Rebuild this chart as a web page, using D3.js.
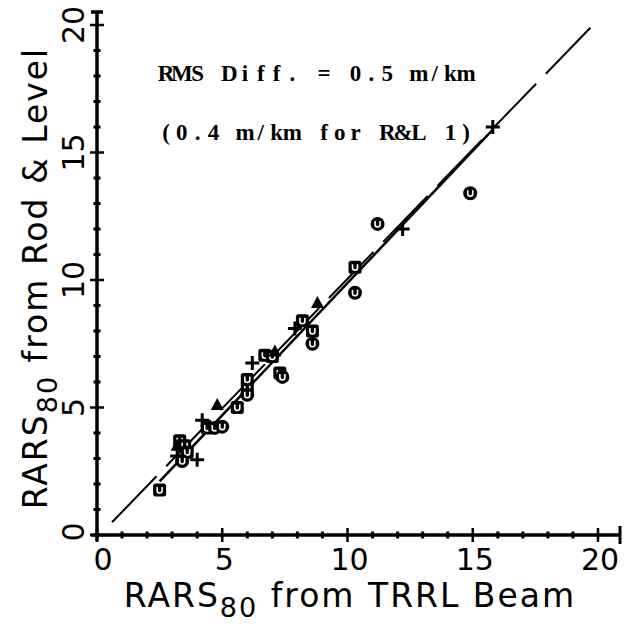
<!DOCTYPE html>
<html>
<head>
<meta charset="utf-8">
<script src="https://cdn.jsdelivr.net/npm/d3@7"></script>
<style>
	body { margin: 0; background: #fff; }
	text { fill: #000; }
</style>
</head>
<body>
<div id="chart"></div>
<script>
// ---------- DATA ----------
const squares = [
	[2.5, 1.76], [3.3, 3.7], [3.5, 3.5], [3.6, 3.25], [4.4, 4.2],
	[5.6, 5.0], [6.0, 5.76], [6.0, 6.1], [6.7, 7.05], [7.0, 7.0],
	[7.3, 6.35], [8.2, 8.4], [8.6, 8.0], [10.3, 10.5],
];
const circles = [
	[3.4, 2.9], [4.7, 4.2], [5.0, 4.25], [6.0, 5.5], [7.4, 6.2],
	[8.6, 7.5], [10.3, 9.5], [11.2, 12.2], [14.9, 13.4],
];
const pluses = [
	[3.2, 3.1], [4.0, 2.95], [4.2, 4.5], [6.2, 6.75], [7.9, 8.1],
	[12.2, 12.0], [15.8, 16.0],
];
const triangles = [
	[3.2, 3.5], [4.8, 5.1], [7.1, 7.2], [8.8, 9.1],
];
const fitLine = [[2.5, 2.1], [15.8, 15.9]];
const equalityLine = [[0.6, 0.5], [19.8, 20.0]];
const majorTicks = [0, 5, 10, 15, 20];
const minorTicks = d3.range(0, 21);
const notes = ["RMS Diff. = 0.5 m/km", "(0.4 m/km for R&L 1)"];

// ---------- CHART ----------
const width = 627;
const height = 636;
const sansFont = "DejaVu Sans, Liberation Sans, sans-serif";

const svg = d3
	.select("#chart")
	.append("svg")
	.attr("width", width)
	.attr("height", height);

const xScale = d3.scaleLinear().domain([0, 20]).range([97, 598]);
const yScale = d3.scaleLinear().domain([0, 20]).range([535, 25]);

const axisG = svg.append("g").attr("stroke", "#000").attr("fill", "none");

// axis lines
axisG
	.append("line")
	.attr("x1", xScale(0) - 6)
	.attr("x2", xScale(20) + 22)
	.attr("y1", yScale(0))
	.attr("y2", yScale(0))
	.attr("stroke-width", 3.5);
axisG
	.append("line")
	.attr("x1", xScale(0))
	.attr("x2", xScale(0))
	.attr("y1", yScale(0) + 6)
	.attr("y2", yScale(20) - 13)
	.attr("stroke-width", 3.5);

// ticks crossing the axes
axisG
	.selectAll(".xtick")
	.data(minorTicks)
	.enter()
	.append("line")
	.attr("x1", (d) => xScale(d))
	.attr("x2", (d) => xScale(d))
	.attr("y1", (d) => yScale(0) - (d % 5 === 0 ? 7 : 3.5))
	.attr("y2", (d) => yScale(0) + (d % 5 === 0 ? 7 : 3.5))
	.attr("stroke-width", (d) => (d % 5 === 0 ? 2.5 : 3));
axisG
	.selectAll(".ytick")
	.data(minorTicks)
	.enter()
	.append("line")
	.attr("y1", (d) => yScale(d))
	.attr("y2", (d) => yScale(d))
	.attr("x1", (d) => xScale(0) - (d % 5 === 0 ? 7 : 3.5))
	.attr("x2", (d) => xScale(0) + (d % 5 === 0 ? 7 : 3.5))
	.attr("stroke-width", (d) => (d % 5 === 0 ? 2.5 : 3));

// end caps
axisG
	.append("line")
	.attr("x1", xScale(20) + 22)
	.attr("x2", xScale(20) + 22)
	.attr("y1", yScale(0) - 9)
	.attr("y2", yScale(0) + 9)
	.attr("stroke-width", 3);
axisG
	.append("line")
	.attr("x1", xScale(0) - 6)
	.attr("x2", xScale(0) + 6)
	.attr("y1", yScale(20) - 13)
	.attr("y2", yScale(20) - 13)
	.attr("stroke-width", 3.5);

// tick labels
svg
	.append("g")
	.selectAll("text")
	.data(majorTicks)
	.enter()
	.append("text")
	.attr("x", (d) => xScale(d) + (d === 0 ? 6 : 2))
	.attr("y", 570)
	.attr("text-anchor", "middle")
	.attr("font-family", sansFont)
	.attr("font-size", 30)
	.text((d) => d);
svg
	.append("g")
	.selectAll("text")
	.data(majorTicks)
	.enter()
	.append("text")
	.attr("transform", (d) => `translate(84, ${yScale(d) - (d === 0 ? 3 : 0)}) rotate(-90)`)
	.attr("text-anchor", "middle")
	.attr("font-family", sansFont)
	.attr("font-size", 30)
	.text((d) => d);

// axis titles
function addTitle(g, main, rest) {
	g.append("tspan").text(main);
	g.append("tspan").attr("font-size", 27).attr("dy", 10).text("80");
	g.append("tspan").attr("dy", -10).text(rest);
}
const xTitle = svg
	.append("text")
	.attr("x", 350)
	.attr("y", 607)
	.attr("text-anchor", "middle")
	.attr("font-family", sansFont)
	.attr("font-size", 33)
	.attr("letter-spacing", 2);
addTitle(xTitle, "RARS", " from TRRL Beam");
const yTitle = svg
	.append("text")
	.attr("transform", "translate(47, 278) rotate(-90)")
	.attr("text-anchor", "middle")
	.attr("font-family", sansFont)
	.attr("font-size", 33)
	.attr("letter-spacing", 2);
addTitle(yTitle, "RARS", " from Rod & Level");

// lines
const line = d3
	.line()
	.x((d) => xScale(d[0]))
	.y((d) => yScale(d[1]));
svg
	.append("path")
	.datum(equalityLine)
	.attr("d", line)
	.attr("fill", "none")
	.attr("stroke", "#000")
	.attr("stroke-width", 2)
	.attr("stroke-dasharray", "64,14");
svg
	.append("path")
	.datum(fitLine)
	.attr("d", line)
	.attr("fill", "none")
	.attr("stroke", "#000")
	.attr("stroke-width", 2.5);

// symbols
const uPath = "M-2.5,-3V0.5A2.5,2.5 0 0 0 2.5,0.5V-3";
const markG = svg.append("g");

const sq = markG
	.selectAll(".sq")
	.data(squares)
	.enter()
	.append("g")
	.attr("transform", (d) => `translate(${xScale(d[0])}, ${yScale(d[1])})`);
sq.append("rect")
	.attr("x", -6.5)
	.attr("y", -6.5)
	.attr("width", 13)
	.attr("height", 13)
	.attr("rx", 2.5)
	.attr("fill", "#000");
sq.append("path")
	.attr("d", uPath)
	.attr("fill", "none")
	.attr("stroke", "#fff")
	.attr("stroke-width", 1.6);

const ci = markG
	.selectAll(".ci")
	.data(circles)
	.enter()
	.append("g")
	.attr("transform", (d) => `translate(${xScale(d[0])}, ${yScale(d[1])})`);
ci.append("circle").attr("r", 7).attr("fill", "#000");
ci.append("path")
	.attr("d", uPath)
	.attr("fill", "none")
	.attr("stroke", "#fff")
	.attr("stroke-width", 1.6);

markG
	.selectAll(".pl")
	.data(pluses)
	.enter()
	.append("path")
	.attr("transform", (d) => `translate(${xScale(d[0])}, ${yScale(d[1])})`)
	.attr("d", "M-7,0H7M0,-7V7")
	.attr("stroke", "#000")
	.attr("stroke-width", 3);

markG
	.selectAll(".tr")
	.data(triangles)
	.enter()
	.append("path")
	.attr("transform", (d) => `translate(${xScale(d[0])}, ${yScale(d[1])})`)
	.attr("d", "M0,-7L6.5,5L-6.5,5Z")
	.attr("fill", "#000");

// annotation, typewriter spacing: one character per fixed cell (x list on one text)
const pitch = 15.8;
svg
	.append("g")
	.selectAll("text")
	.data(notes)
	.enter()
	.append("text")
	.attr("y", (d, i) => 81 + i * 59)
	.attr("x", (d) => d.split("").map((c, i) => 166 + i * pitch).join(" "))
	.attr("font-family", "Liberation Serif, DejaVu Serif, serif")
	.attr("font-weight", "bold")
	.attr("font-size", 23)
	.attr("text-anchor", "middle")
	.text((d) => d);
</script>
</body>
</html>
